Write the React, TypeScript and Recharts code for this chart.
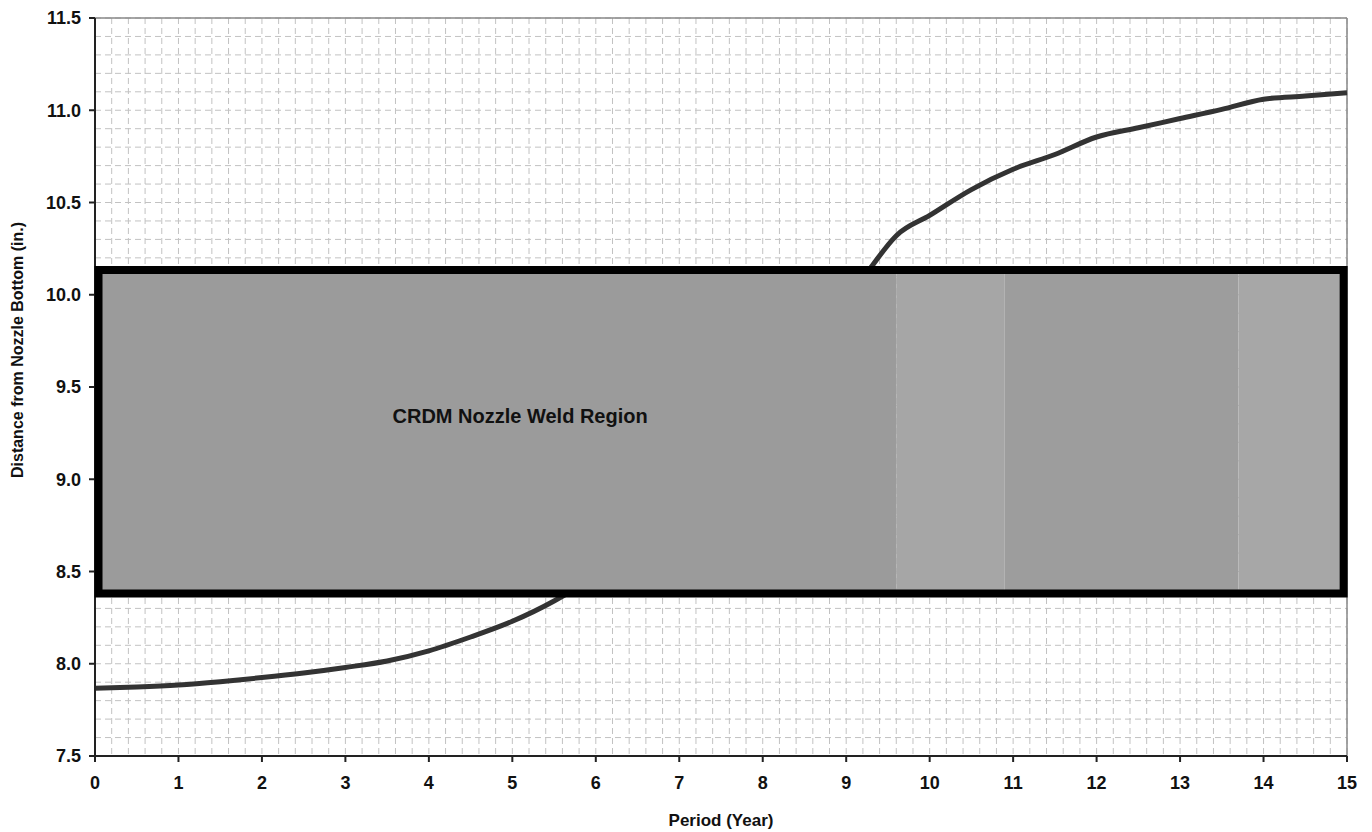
import React from 'react';
import {
  LineChart, Line, XAxis, YAxis, CartesianGrid, ReferenceArea, ReferenceLine, Label,
} from 'recharts';

const years = [0, 0.5, 1, 1.5, 2, 2.5, 3, 3.5, 4, 4.5, 5, 5.5, 6, 7, 8, 9, 9.3, 9.6, 10, 10.5, 11, 11.5, 12, 12.5, 13, 13.5, 14, 14.5, 15];
const distance = [7.867, 7.874, 7.885, 7.903, 7.925, 7.95, 7.98, 8.015, 8.07, 8.145, 8.23, 8.34, 8.48, 8.9, 9.4, 9.95, 10.15, 10.32, 10.43, 10.57, 10.68, 10.76, 10.855, 10.905, 10.955, 11.005, 11.06, 11.077, 11.095];

const xTicks = [0, 1, 2, 3, 4, 5, 6, 7, 8, 9, 10, 11, 12, 13, 14, 15];
const yTicks = [7.5, 8.0, 8.5, 9.0, 9.5, 10.0, 10.5, 11.0, 11.5];

const xGridTicks = [
  0, 0.2, 0.4, 0.6, 0.8, 1, 1.2, 1.4, 1.6, 1.8, 2, 2.2, 2.4, 2.6, 2.8, 3, 3.2, 3.4, 3.6, 3.8,
  4, 4.2, 4.4, 4.6, 4.8, 5, 5.2, 5.4, 5.6, 5.8, 6, 6.2, 6.4, 6.6, 6.8, 7, 7.2, 7.4, 7.6, 7.8,
  8, 8.2, 8.4, 8.6, 8.8, 9, 9.2, 9.4, 9.6, 9.8, 10, 10.2, 10.4, 10.6, 10.8, 11, 11.2, 11.4, 11.6, 11.8,
  12, 12.2, 12.4, 12.6, 12.8, 13, 13.2, 13.4, 13.6, 13.8, 14, 14.2, 14.4, 14.6, 14.8, 15,
];
const yGridTicks = [
  7.5, 7.6, 7.7, 7.8, 7.9, 8.0, 8.1, 8.2, 8.3, 8.4, 8.5, 8.6, 8.7, 8.8, 8.9, 9.0, 9.1, 9.2, 9.3, 9.4,
  9.5, 9.6, 9.7, 9.8, 9.9, 10.0, 10.1, 10.2, 10.3, 10.4, 10.5, 10.6, 10.7, 10.8, 10.9, 11.0, 11.1, 11.2, 11.3, 11.4, 11.5,
];

const regionLabel = 'CRDM Nozzle Weld Region';
const regionBottom = 8.381;
const regionTop = 10.134;
const regionLeft = 0.042;
const regionRight = 14.96;
const bandStarts = [0, 9.6, 10.9, 13.7];
const bandEnds = [9.6, 10.9, 13.7, 15];
const bandColors = ['#9b9b9b', '#a6a6a6', '#9d9d9d', '#a7a7a7'];

const data = years.map((y, i) => ({ year: y, dist: distance[i] }));

const FONT = '"Liberation Sans", Arial, sans-serif';

const YLabel = (props: any) => {
  const vb = props.viewBox || {};
  const x = vb.x + 17;
  const y = vb.y + vb.height / 2 - 37;
  return (
    <text x={x} y={y} transform={`rotate(-90, ${x}, ${y})`} textAnchor="middle" dominantBaseline="central"
      fontFamily={FONT} fontWeight="bold" fontSize={16} fill="#111">
      Distance from Nozzle Bottom (in.)
    </text>
  );
};

const XLabel = (props: any) => {
  const vb = props.viewBox || {};
  return (
    <text x={vb.x + vb.width / 2} y={vb.y + vb.height - 6} textAnchor="middle"
      fontFamily={FONT} fontWeight="bold" fontSize={17} fill="#111">
      Period (Year)
    </text>
  );
};

const RegionText = (p: any) => {
  const vb = p.viewBox || {};
  return (
    <text x={vb.x + 294} y={vb.y + 153} textAnchor="start"
      fontFamily={FONT} fontWeight="bold" fontSize={20} fill="#111">{regionLabel}</text>
  );
};

export default function App() {
  return (
    <div style={{ position: 'absolute', left: 0, top: 0, background: '#fff' }}>
      <LineChart width={1372} height={832} data={data} margin={{ top: 18, right: 25, bottom: 0, left: 0 }}>
        <XAxis xAxisId="grid" dataKey="year" type="number" domain={[0, 15]} ticks={xGridTicks} interval={0} hide allowDataOverflow />
        <YAxis yAxisId="grid" dataKey="dist" type="number" domain={[7.5, 11.5]} ticks={yGridTicks} interval={0} hide allowDataOverflow />
        <CartesianGrid xAxisId="grid" yAxisId="grid" stroke="#c2c2c2" strokeDasharray="6 4" strokeWidth={1} />
        <XAxis
          dataKey="year" type="number" domain={[0, 15]} ticks={xTicks} interval={0} height={76}
          axisLine={{ stroke: '#222', strokeWidth: 2 }} tickLine={{ stroke: '#222', strokeWidth: 2 }} tickSize={6}
          tickMargin={14}
          tick={{ fill: '#111', fontSize: 18, fontWeight: 'bold', fontFamily: FONT }}
        >
          <Label content={<XLabel />} />
        </XAxis>
        <YAxis
          type="number" domain={[7.5, 11.5]} ticks={yTicks} interval={0} width={95}
          tickFormatter={(v: number) => v.toFixed(1)}
          axisLine={{ stroke: '#222', strokeWidth: 2 }} tickLine={{ stroke: '#222', strokeWidth: 2 }} tickSize={6}
          tickMargin={8}
          tick={{ fill: '#111', fontSize: 18, fontWeight: 'bold', fontFamily: FONT }}
          label={<YLabel />}
        />
        <ReferenceLine y={11.5} stroke="#888" strokeWidth={1.5} />
        <ReferenceLine x={15} stroke="#888" strokeWidth={1.5} />
        <Line dataKey="dist" type="monotone" stroke="#333" strokeWidth={5} dot={false} isAnimationActive={false} />
        {bandStarts.map((s, i) => (
          <ReferenceArea key={i} x1={s} x2={bandEnds[i]} y1={regionBottom} y2={regionTop}
            fill={bandColors[i]} fillOpacity={1} stroke="none" zIndex={1000} />
        ))}
        <ReferenceArea x1={regionLeft} x2={regionRight} y1={regionBottom} y2={regionTop}
          fill="none" fillOpacity={0} stroke="#000" strokeWidth={8} zIndex={1001}>
          <Label content={<RegionText />} />
        </ReferenceArea>
      </LineChart>
    </div>
  );
}
